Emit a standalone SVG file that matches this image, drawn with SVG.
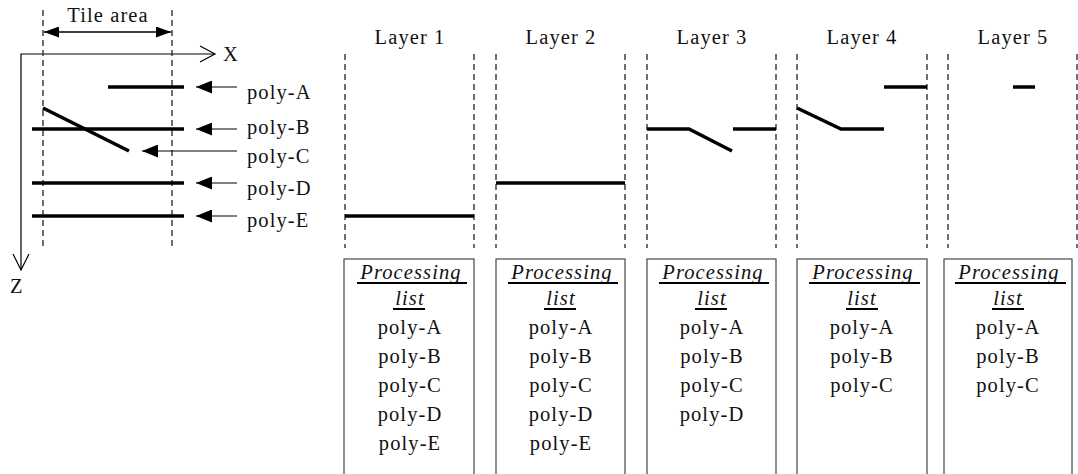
<svg xmlns="http://www.w3.org/2000/svg" width="1078" height="474" viewBox="0 0 1078 474">
<style>
text{font-family:"Times New Roman","Liberation Serif",Times,serif;font-size:20.5px;fill:#111;letter-spacing:1.1px}
.mid{text-anchor:middle}
.it{font-style:italic}
.dash{stroke:#222;stroke-width:1.3;stroke-dasharray:6 4;fill:none}
.poly{stroke:#000;stroke-width:3.5;fill:none;stroke-linecap:butt}
.thin{stroke:#000;stroke-width:1.2;fill:none}
.box{stroke:#555;stroke-width:1.3;fill:#fff}
.ul{stroke:#000;stroke-width:2}
</style>
<defs>
<marker id="fa" viewBox="0 0 16 13" refX="16" refY="6.5" markerWidth="16" markerHeight="13" markerUnits="userSpaceOnUse" orient="auto-start-reverse">
<path d="M16,6.5 L0,0 L0,13 Z" fill="#000"/>
</marker>
<marker id="ta" viewBox="0 0 15 11" refX="15" refY="5.5" markerWidth="15" markerHeight="11" markerUnits="userSpaceOnUse" orient="auto-start-reverse">
<path d="M15,5.5 L0,0 L0,11 Z" fill="#000"/>
</marker>
</defs>

<g id="axes">
<polyline class="thin" points="215,54 21,54 21,270"/>
<polyline class="thin" points="200,46 215,54 200,62"/>
<polyline class="thin" points="13,254 21,270 29,254"/>
<text x="223" y="61" style="letter-spacing:0">X</text>
<text x="10" y="293" style="letter-spacing:0">Z</text>
</g>

<g id="tile-area">
<line class="dash" x1="43" y1="10" x2="43" y2="248"/>
<line class="dash" x1="172" y1="10" x2="172" y2="248"/>
<line stroke="#000" stroke-width="1.5" x1="44" y1="32" x2="171" y2="32" marker-start="url(#ta)" marker-end="url(#ta)"/>
<text class="mid" x="108" y="22">Tile area</text>
</g>

<g id="scene-polys">
<line class="poly" x1="108" y1="87" x2="184" y2="87"/>
<line class="poly" x1="32" y1="129" x2="184" y2="129"/>
<line class="poly" x1="43" y1="108" x2="129" y2="151"/>
<line class="poly" x1="32" y1="183" x2="184" y2="183"/>
<line class="poly" x1="32" y1="216" x2="184" y2="216"/>
</g>

<g id="connectors">
<line class="thin" x1="237" y1="87" x2="196" y2="87" marker-end="url(#fa)"/>
<line class="thin" x1="237" y1="129" x2="196" y2="129" marker-end="url(#fa)"/>
<line class="thin" x1="237" y1="151" x2="142" y2="151" marker-end="url(#fa)"/>
<line class="thin" x1="237" y1="183" x2="196" y2="183" marker-end="url(#fa)"/>
<line class="thin" x1="237" y1="216" x2="196" y2="216" marker-end="url(#fa)"/>
</g>

<g id="poly-labels">
<text x="247" y="99">poly-A</text>
<text x="247" y="134">poly-B</text>
<text x="247" y="163">poly-C</text>
<text x="247" y="195">poly-D</text>
<text x="247" y="227">poly-E</text>
</g>

<g id="layer1">
<text class="mid" x="410" y="44">Layer 1</text>
<line class="dash" x1="345" y1="54" x2="345" y2="248"/>
<line class="dash" x1="474" y1="54" x2="474" y2="248"/>
<line class="poly" x1="345" y1="216" x2="474" y2="216"/>
<rect class="box" x="344" y="259" width="130" height="230"/>
<text class="mid it" x="411" y="279">Processing</text>
<line class="ul" x1="357" y1="283" x2="467" y2="283"/>
<text class="mid it" x="410" y="305">list</text>
<line class="ul" x1="393" y1="309" x2="425" y2="309"/>
<text class="mid" x="410" y="334">poly-A</text>
<text class="mid" x="410" y="363">poly-B</text>
<text class="mid" x="410" y="392">poly-C</text>
<text class="mid" x="410" y="421">poly-D</text>
<text class="mid" x="410" y="450">poly-E</text>
</g>

<g id="layer2">
<text class="mid" x="561" y="44">Layer 2</text>
<line class="dash" x1="496" y1="54" x2="496" y2="248"/>
<line class="dash" x1="625" y1="54" x2="625" y2="248"/>
<line class="poly" x1="496" y1="183" x2="625" y2="183"/>
<rect class="box" x="496" y="259" width="129" height="230"/>
<text class="mid it" x="562" y="279">Processing</text>
<line class="ul" x1="508" y1="283" x2="618" y2="283"/>
<text class="mid it" x="561" y="305">list</text>
<line class="ul" x1="544" y1="309" x2="576" y2="309"/>
<text class="mid" x="561" y="334">poly-A</text>
<text class="mid" x="561" y="363">poly-B</text>
<text class="mid" x="561" y="392">poly-C</text>
<text class="mid" x="561" y="421">poly-D</text>
<text class="mid" x="561" y="450">poly-E</text>
</g>

<g id="layer3">
<text class="mid" x="712" y="44">Layer 3</text>
<line class="dash" x1="647" y1="54" x2="647" y2="248"/>
<line class="dash" x1="776" y1="54" x2="776" y2="248"/>
<polyline class="poly" points="647,129 689,129 732,151"/>
<line class="poly" x1="733" y1="129" x2="776" y2="129"/>
<rect class="box" x="647" y="259" width="129" height="230"/>
<text class="mid it" x="713" y="279">Processing</text>
<line class="ul" x1="659" y1="283" x2="769" y2="283"/>
<text class="mid it" x="712" y="305">list</text>
<line class="ul" x1="695" y1="309" x2="727" y2="309"/>
<text class="mid" x="712" y="334">poly-A</text>
<text class="mid" x="712" y="363">poly-B</text>
<text class="mid" x="712" y="392">poly-C</text>
<text class="mid" x="712" y="421">poly-D</text>
</g>

<g id="layer4">
<text class="mid" x="862" y="44">Layer 4</text>
<line class="dash" x1="797" y1="54" x2="797" y2="248"/>
<line class="dash" x1="927" y1="54" x2="927" y2="248"/>
<polyline class="poly" points="797,108 841,129 884,129"/>
<line class="poly" x1="884" y1="87" x2="927" y2="87"/>
<rect class="box" x="797" y="259" width="130" height="230"/>
<text class="mid it" x="863" y="279">Processing</text>
<line class="ul" x1="809" y1="283" x2="920" y2="283"/>
<text class="mid it" x="862" y="305">list</text>
<line class="ul" x1="846" y1="309" x2="878" y2="309"/>
<text class="mid" x="862" y="334">poly-A</text>
<text class="mid" x="862" y="363">poly-B</text>
<text class="mid" x="862" y="392">poly-C</text>
</g>

<g id="layer5">
<text class="mid" x="1013" y="44">Layer 5</text>
<line class="dash" x1="948" y1="54" x2="948" y2="248"/>
<line class="dash" x1="1077" y1="54" x2="1077" y2="248"/>
<line class="poly" x1="1013" y1="87" x2="1035" y2="87"/>
<rect class="box" x="944" y="259" width="128" height="230"/>
<text class="mid it" x="1009" y="279">Processing</text>
<line class="ul" x1="955" y1="283" x2="1066" y2="283"/>
<text class="mid it" x="1008" y="305">list</text>
<line class="ul" x1="992" y1="309" x2="1024" y2="309"/>
<text class="mid" x="1008" y="334">poly-A</text>
<text class="mid" x="1008" y="363">poly-B</text>
<text class="mid" x="1008" y="392">poly-C</text>
</g>
</svg>
